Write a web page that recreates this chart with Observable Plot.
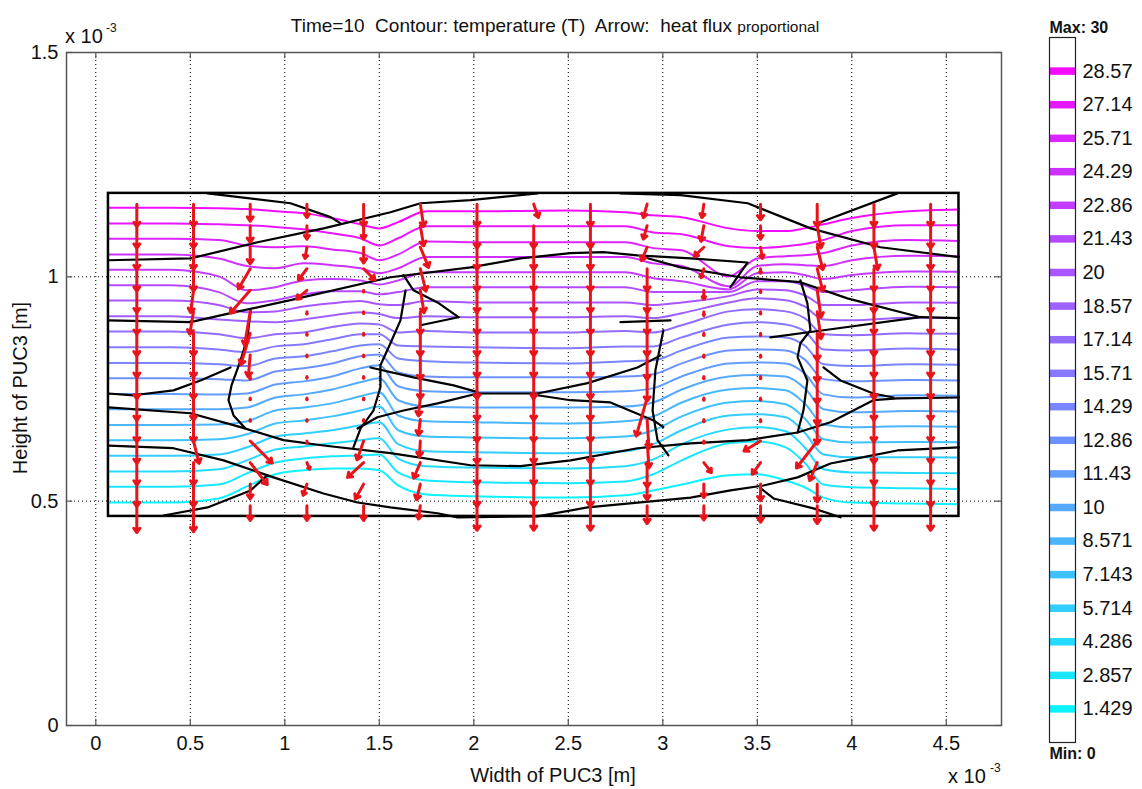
<!DOCTYPE html>
<html>
<head>
<meta charset="utf-8">
<script src="https://cdn.jsdelivr.net/npm/d3@7"></script>
<script src="https://cdn.jsdelivr.net/npm/@observablehq/plot@0.6"></script>
<style>
  html,body{margin:0;padding:0;background:#fff;}
  #wrap{position:relative;width:1142px;height:789px;overflow:hidden;background:#fff;}
  #main{position:absolute;left:0;top:0;width:1020px;height:789px;}
  #cbar{position:absolute;left:1020px;top:0;width:122px;height:789px;}
  #overlay{position:absolute;left:0;top:0;}
  #overlay text{font-family:"Liberation Sans",Arial,sans-serif;fill:#111;white-space:pre;}
</style>
</head>
<body>
<div id="wrap">
  <div id="main"></div>
  <div id="cbar"></div>
  <svg id="overlay" width="1142" height="789">
    <text x="555" y="32" text-anchor="middle" font-size="19">Time=10  Contour: temperature (T)  Arrow:  heat flux <tspan font-size="15.5">proportional</tspan></text>
    <text x="65" y="43" font-size="20">x 10</text>
    <text x="106" y="32" font-size="12">-3</text>
    <text x="948" y="783" font-size="20">x 10</text>
    <text x="990" y="772" font-size="12">-3</text>
    <text x="553" y="782" text-anchor="middle" font-size="20">Width of PUC3 [m]</text>
    <text transform="translate(27,388) rotate(-90)" text-anchor="middle" font-size="20">Height of PUC3 [m]</text>
  </svg>
</div>
<script>
// ---------- axes ----------
const xTicks = [0, 0.5, 1, 1.5, 2, 2.5, 3, 3.5, 4, 4.5];
const xTickLabels = ["0", "0.5", "1", "1.5", "2", "2.5", "3", "3.5", "4", "4.5"];
const yTicks = [0, 0.5, 1, 1.5];
const yTickLabels = ["0", "0.5", "1", "1.5"];

// ---------- contour levels (temperature T) ----------
const tMin = 0, tMax = 30;
const levels = [1.429, 2.857, 4.286, 5.714, 7.143, 8.571, 10, 11.43, 12.86, 14.29, 15.71, 17.14, 18.57, 20, 21.43, 22.86, 24.29, 25.71, 27.14, 28.57];
const levelLabels = ["1.429", "2.857", "4.286", "5.714", "7.143", "8.571", "10", "11.43", "12.86", "14.29", "15.71", "17.14", "18.57", "20", "21.43", "22.86", "24.29", "25.71", "27.14", "28.57"];

// unit cell outline (x10^-3 m)
const cellX = [0.067, 4.567];
const cellY = [0.466, 1.186];

// x stations where each isotherm height was read (x10^-3 m)
const stationX = [0.067, 0.4, 0.65, 0.8, 0.95, 1.1, 1.25, 1.4, 1.5, 1.6, 1.75, 2.0, 2.5, 2.8, 2.95, 3.1, 3.35, 3.5, 3.65, 3.75, 3.85, 4.0, 4.3, 4.567];
// isoY[station][level] : height of each isotherm at each station (x10^-3 m)
const isoY = [
  [0.497,0.532,0.566,0.601,0.636,0.670,0.705,0.739,0.774,0.808,0.843,0.878,0.912,0.947,0.981,1.016,1.050,1.085,1.119,1.154],
  [0.497,0.532,0.566,0.601,0.636,0.670,0.705,0.739,0.774,0.808,0.843,0.878,0.912,0.947,0.981,1.016,1.050,1.085,1.119,1.154],
  [0.506,0.537,0.571,0.604,0.638,0.671,0.705,0.738,0.772,0.805,0.838,0.872,0.905,0.937,0.966,1.001,1.041,1.082,1.117,1.153],
  [0.533,0.562,0.591,0.620,0.649,0.678,0.709,0.740,0.769,0.801,0.832,0.863,0.901,0.921,0.941,0.970,1.024,1.070,1.115,1.151],
  [0.560,0.586,0.615,0.644,0.673,0.702,0.731,0.760,0.789,0.818,0.845,0.872,0.899,0.923,0.948,0.977,1.019,1.066,1.111,1.146],
  [0.569,0.595,0.622,0.651,0.680,0.709,0.738,0.767,0.796,0.823,0.850,0.876,0.905,0.934,0.961,0.992,1.030,1.068,1.106,1.142],
  [0.573,0.600,0.629,0.658,0.689,0.718,0.749,0.778,0.807,0.834,0.861,0.888,0.914,0.941,0.968,0.995,1.026,1.061,1.097,1.131],
  [0.573,0.602,0.636,0.669,0.702,0.734,0.765,0.796,0.823,0.847,0.872,0.896,0.921,0.946,0.968,0.992,1.019,1.053,1.086,1.117],
  [0.569,0.604,0.640,0.676,0.711,0.743,0.774,0.803,0.827,0.850,0.872,0.894,0.917,0.939,0.961,0.983,1.008,1.037,1.070,1.108],
  [0.535,0.564,0.595,0.627,0.658,0.691,0.725,0.756,0.787,0.818,0.847,0.876,0.908,0.937,0.966,0.992,1.019,1.050,1.086,1.122],
  [0.515,0.546,0.578,0.611,0.644,0.678,0.711,0.745,0.778,0.812,0.845,0.879,0.912,0.946,0.977,1.010,1.044,1.079,1.113,1.146],
  [0.511,0.542,0.575,0.609,0.642,0.676,0.709,0.743,0.776,0.809,0.843,0.876,0.910,0.943,0.977,1.010,1.044,1.077,1.113,1.146],
  [0.508,0.540,0.573,0.607,0.640,0.673,0.709,0.743,0.776,0.807,0.841,0.876,0.910,0.943,0.977,1.010,1.044,1.077,1.113,1.148],
  [0.513,0.544,0.578,0.611,0.644,0.678,0.711,0.745,0.778,0.812,0.845,0.879,0.912,0.943,0.977,1.010,1.044,1.077,1.113,1.144],
  [0.524,0.560,0.593,0.627,0.658,0.689,0.720,0.752,0.783,0.814,0.845,0.876,0.908,0.937,0.966,0.997,1.030,1.064,1.099,1.137],
  [0.537,0.591,0.627,0.658,0.689,0.720,0.749,0.778,0.807,0.836,0.865,0.892,0.919,0.943,0.966,0.990,1.024,1.059,1.095,1.133],
  [0.558,0.629,0.660,0.691,0.720,0.749,0.778,0.807,0.836,0.865,0.894,0.923,0.943,0.957,0.966,0.972,0.979,1.001,1.068,1.108],
  [0.560,0.633,0.665,0.694,0.723,0.752,0.781,0.809,0.838,0.867,0.899,0.928,0.952,0.972,0.990,1.008,1.024,1.041,1.064,1.102],
  [0.546,0.620,0.656,0.687,0.716,0.747,0.778,0.807,0.836,0.865,0.894,0.923,0.948,0.970,0.990,1.010,1.028,1.046,1.068,1.102],
  [0.531,0.586,0.620,0.653,0.685,0.718,0.752,0.785,0.816,0.847,0.879,0.908,0.934,0.959,0.981,1.004,1.026,1.048,1.073,1.108],
  [0.508,0.537,0.571,0.604,0.638,0.671,0.705,0.738,0.772,0.805,0.838,0.872,0.905,0.937,0.966,0.995,1.024,1.053,1.082,1.117],
  [0.497,0.531,0.564,0.598,0.631,0.665,0.698,0.731,0.767,0.801,0.836,0.870,0.903,0.937,0.970,1.004,1.037,1.070,1.102,1.131],
  [0.495,0.529,0.563,0.598,0.632,0.667,0.701,0.736,0.770,0.805,0.840,0.874,0.909,0.943,0.978,1.012,1.047,1.082,1.115,1.146],
  [0.493,0.527,0.562,0.597,0.631,0.666,0.700,0.735,0.769,0.804,0.838,0.873,0.908,0.942,0.977,1.011,1.046,1.080,1.115,1.150]
];

// material boundaries (black lines), x10^-3 m
const boundaryX = [
  [0.067,0.501,0.856,1.205,1.559,1.718,1.983,2.337],
  [0.592,1.030,1.242,1.295],
  [0.067,0.501,0.713,1.030,1.559,1.983,2.247,2.512,2.686,2.866,3.147,3.449,3.358],
  [2.882,3.094,3.411,3.728,3.977,4.363,4.567],
  [2.776,3.094,3.449,3.782,4.152,4.567],
  [3.817,4.241],
  [3.569,3.850,4.363],
  [0.067,0.199,0.411,0.554,0.713],
  [0.819,0.803,0.766,0.718,0.702,0.729,0.792],
  [0.067,0.501,0.766,0.993,1.205,1.559,1.983,2.247,2.512,2.866,3.147,3.449,3.713,3.887,4.114,4.241,4.567],
  [0.067,0.411,0.676,0.940,1.205,1.385,1.559,1.808,1.914,2.337,2.602,3.147,3.358,3.533,3.713,3.887,4.062,4.241,4.567],
  [0.358,0.591,0.819,0.908],
  [1.639,1.612,1.559,1.506,1.506,1.469,1.401,1.363],
  [1.385,1.490,1.628,1.808,2.020,2.337,2.602,2.866,2.988],
  [1.453,1.681,1.893,2.020],
  [2.337,2.512,2.723,2.951,3.003],
  [3.003,2.961,2.946,2.972,3.030],
  [3.728,3.765,3.781,3.728,3.713,3.765,3.744,3.713],
  [3.517,3.586,3.797,3.940],
  [3.850,3.940,4.114,4.220],
  [2.776,3.041],
  [1.628,1.681,1.808,1.919],
  [1.718,1.919]
];
const boundaryY = [
  [1.037,1.041,1.077,1.108,1.144,1.164,1.171,1.186],
  [1.186,1.164,1.133,1.119],
  [0.903,0.899,0.919,0.948,0.999,1.021,1.041,1.053,1.055,1.048,1.041,1.032,0.977],
  [1.046,1.021,0.999,0.988,0.952,0.910,0.908],
  [1.186,1.182,1.164,1.108,1.066,1.044],
  [1.119,1.186],
  [0.865,0.881,0.910],
  [0.740,0.736,0.747,0.769,0.798],
  [0.925,0.865,0.814,0.758,0.725,0.691,0.662],
  [0.709,0.696,0.665,0.636,0.624,0.607,0.580,0.578,0.591,0.618,0.629,0.636,0.653,0.676,0.725,0.729,0.731],
  [0.624,0.618,0.591,0.553,0.517,0.497,0.486,0.473,0.464,0.466,0.486,0.508,0.524,0.535,0.553,0.584,0.598,0.613,0.620],
  [0.468,0.486,0.524,0.558],
  [0.970,0.903,0.852,0.803,0.754,0.702,0.662,0.620],
  [0.662,0.687,0.702,0.718,0.740,0.740,0.763,0.798,0.825],
  [0.798,0.776,0.758,0.743],
  [0.736,0.725,0.720,0.680,0.665],
  [0.881,0.792,0.702,0.636,0.602],
  [0.992,0.941,0.881,0.852,0.821,0.769,0.702,0.653],
  [0.529,0.506,0.484,0.464],
  [0.798,0.769,0.740,0.731],
  [0.899,0.903],
  [1.004,0.970,0.943,0.910],
  [0.892,0.910]
];

// heat-flux arrows: sample grid and components (per column, rows bottom -> top)
const arrowColX = [0.217,0.517,0.817,1.117,1.417,1.717,2.017,2.317,2.617,2.917,3.217,3.517,3.817,4.117,4.417];
const arrowRowY = [0.490,0.538,0.586,0.634,0.682,0.730,0.778,0.826,0.874,0.922,0.970,1.018,1.066,1.114,1.162];
const fluxDown = [
  [0.060,0.050,0.050,0.050,0.050,0.050,0.050,0.050,0.050,0.050,0.050,0.050,0.050,0.050,0.050],
  [0.058,0.050,0.050,0.050,0.050,0.050,0.050,0.050,0.050,0.050,0.050,0.050,0.050,0.050,0.050],
  [0.033,0.033,0.049,0.049,0.004,0.004,0.006,0.049,0.070,0.075,0.051,0.045,0.037,0.037,0.038],
  [0.033,0.025,0.015,0.005,0.004,0.004,0.004,0.004,0.004,0.005,0.020,0.025,0.025,0.030,0.030],
  [0.033,0.033,0.033,0.042,0.004,0.004,0.004,0.004,0.004,0.004,0.004,0.025,0.035,0.030,0.050],
  [0.030,0.035,0.035,0.035,0.035,0.040,0.050,0.055,0.050,0.050,0.050,0.050,0.045,0.045,0.050],
  [0.055,0.050,0.050,0.050,0.050,0.050,0.050,0.050,0.050,0.050,0.050,0.050,0.050,0.050,0.050],
  [0.055,0.050,0.050,0.050,0.050,0.050,0.050,0.050,0.050,0.050,0.050,0.050,0.050,0.050,0.030],
  [0.055,0.050,0.050,0.050,0.050,0.050,0.050,0.050,0.050,0.050,0.050,0.050,0.050,0.050,0.050],
  [0.040,0.035,0.055,0.060,0.065,0.085,0.055,0.055,0.050,0.050,0.050,0.050,0.030,0.030,0.030],
  [0.032,0.030,0.022,0.005,0.005,0.005,0.005,0.005,0.005,0.008,0.020,0.020,0.020,0.035,0.030],
  [0.037,0.037,0.026,0.022,0.005,0.005,0.005,0.005,0.005,0.005,0.005,0.010,0.025,0.030,0.035],
  [0.040,0.040,0.040,0.060,0.055,0.060,0.060,0.060,0.060,0.060,0.060,0.050,0.050,0.050,0.050],
  [0.055,0.050,0.050,0.050,0.050,0.050,0.050,0.050,0.050,0.050,0.050,0.050,0.050,0.050,0.050],
  [0.055,0.050,0.050,0.050,0.050,0.050,0.050,0.050,0.050,0.050,0.050,0.050,0.050,0.050,0.050]
];
const fluxSide = [
  [0,0,0,0,0,0,0,0,0,0,0,0,0,0,0],
  [0,0,0,0.03,0,0,0,0,0,-0.02,-0.015,0,0,0,0],
  [0,0,0.09,0.116,0,0,0,-0.01,-0.05,-0.03,-0.106,-0.063,0,0,0],
  [0,-0.02,0.015,0,0,0,0,0,0,0,-0.055,-0.045,-0.01,0,0],
  [0,-0.044,-0.085,-0.035,0,0,0,0,0,0,0,0.06,0,0,0],
  [-0.01,-0.02,-0.035,-0.005,-0.01,-0.01,0,0,0,0,0.02,0.03,0.044,0.018,0.018],
  [0,0,0,0,0,0,0,0,0,0,0,0,0,0,0],
  [0,0,0,0,0,0,0,0,0,0,0,0,0,0,0.025],
  [0,0,0,0,0,0,0,0,0,0,0,0,0,0,0],
  [0,0,0,0.01,0.01,-0.058,0,0,0,0,0,0,-0.03,-0.02,-0.02],
  [0,0,0.04,0,0,0,0,0,0,0,0,-0.015,-0.05,-0.015,-0.01],
  [0,0,-0.044,-0.088,0,0,0,0,0,0,0,0,0.01,0,0],
  [0,0,-0.04,-0.11,0,0,0,0,0,0.02,0.02,0.03,0.03,0.02,0],
  [0,0,0,0,0,0,0,0,0,0,0,0,0.02,0,0],
  [0,0,0,0,0,0,0,0,0,0,0,0,0,0,0]
];

// ---------- build tables ----------
const cool = t => `rgb(${Math.round(255*t)},${Math.round(255*(1-t))},255)`;
const isoPts = [];
levels.forEach((lv, k) => stationX.forEach((sx, s) => isoPts.push({x: sx, y: isoY[s][k], level: lv})));
const bndPts = [];
boundaryX.forEach((xs, b) => xs.forEach((bx, i) => bndPts.push({x: bx, y: boundaryY[b][i], id: b})));
const arrows = [];
arrowColX.forEach((cx, i) => arrowRowY.forEach((ry, j) =>
  arrows.push({x1: cx, y1: ry, x2: cx + fluxSide[i][j], y2: ry - fluxDown[i][j]})));
const cell = [{x1: cellX[0], x2: cellX[1], y1: cellY[0], y2: cellY[1]}];

const xDomain = [-0.155, 4.792], yDomain = [0, 1.5];
const font = "Liberation Sans, Arial, sans-serif";

const main = Plot.plot({
  width: 1020, height: 789,
  marginLeft: 66, marginRight: 19, marginTop: 52, marginBottom: 64,
  x: {domain: xDomain},
  y: {domain: yDomain},
  color: {type: "identity"},
  style: {fontFamily: font, fontSize: "20px", color: "#111", background: "white"},
  marks: [
    Plot.ruleX(xTicks, {stroke: "#000", strokeWidth: 1, strokeDasharray: "1,3"}),
    Plot.ruleY(yTicks, {stroke: "#000", strokeWidth: 1, strokeDasharray: "1,3"}),
    Plot.line(isoPts, {x: "x", y: "y", z: "level", stroke: d => cool((d.level - tMin) / (tMax - tMin)), strokeWidth: 2, curve: "monotone-x"}),
    Plot.line(bndPts, {x: "x", y: "y", z: "id", stroke: "#000", strokeWidth: 2.2}),
    Plot.rect(cell, {x1: "x1", x2: "x2", y1: "y1", y2: "y2", fill: "none", stroke: "#000", strokeWidth: 2.5}),
    Plot.arrow(arrows, {x1: "x1", y1: "y1", x2: "x2", y2: "y2", stroke: "#e8141b", strokeWidth: 3, headLength: 2.6, headAngle: 70}),
    Plot.frame({stroke: "#555", strokeWidth: 1.5}),
    Plot.ruleX(xTicks, {y1: yDomain[0], y2: yDomain[0] + 0.014, stroke: "#555", strokeWidth: 1.2}),
    Plot.ruleX(xTicks, {y1: yDomain[1], y2: yDomain[1] - 0.014, stroke: "#555", strokeWidth: 1.2}),
    Plot.ruleY(yTicks, {x1: xDomain[0], x2: xDomain[0] + 0.033, stroke: "#555", strokeWidth: 1.2}),
    Plot.ruleY(yTicks, {x1: xDomain[1], x2: xDomain[1] - 0.033, stroke: "#555", strokeWidth: 1.2}),
    Plot.axisX(xTicks, {tickSize: 0, tickPadding: 10, fontSize: 20, tickFormat: d => xTickLabels[xTicks.indexOf(d)], label: null}),
    Plot.axisY(yTicks, {tickSize: 0, tickPadding: 8, fontSize: 20, tickFormat: d => yTickLabels[yTicks.indexOf(d)], label: null})
  ]
});
document.getElementById("main").appendChild(main);

const cb = Plot.plot({
  width: 122, height: 789,
  marginTop: 37, marginBottom: 47, marginLeft: 29, marginRight: 67,
  x: {domain: [0, 1], axis: null},
  y: {domain: [tMin, tMax], axis: null},
  color: {type: "identity"},
  style: {fontFamily: font, fontSize: "20px", color: "#111", background: "white", overflow: "visible"},
  marks: [
    Plot.ruleY(levels, {y: d => d, x1: 0, x2: 1, stroke: d => cool((d - tMin) / (tMax - tMin)), strokeWidth: 7.5}),
    Plot.frame({stroke: "#222", strokeWidth: 1.2}),
    Plot.text(levels, {x: 1, y: d => d, text: (d, i) => levelLabels[i], textAnchor: "start", dx: 7, fontSize: 20, fill: "#111"}),
    Plot.text([tMax], {frameAnchor: "top-left", text: d => `Max: ${d}`, dy: -16, textAnchor: "start", fontSize: 16, fontWeight: "bold", fill: "#111"}),
    Plot.text([tMin], {frameAnchor: "bottom-left", text: d => `Min: ${d}`, dy: 16, textAnchor: "start", fontSize: 16, fontWeight: "bold", fill: "#111"})
  ]
});
document.getElementById("cbar").appendChild(cb);
</script>
</body>
</html>
